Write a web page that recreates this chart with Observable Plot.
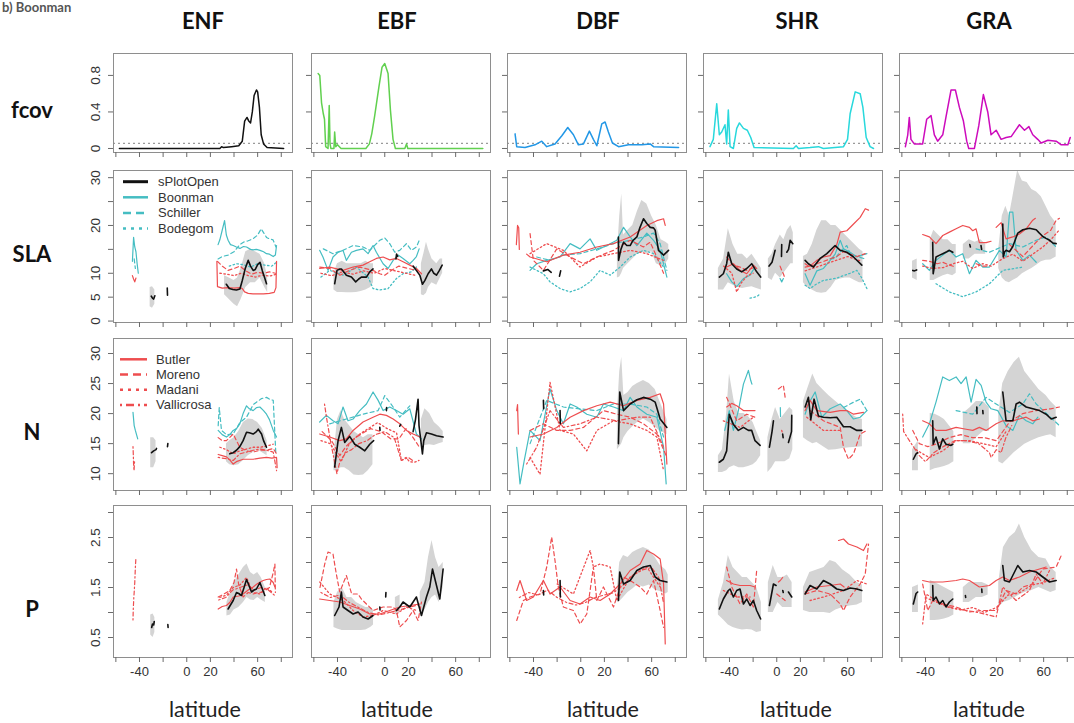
<!DOCTYPE html>
<html><head><meta charset="utf-8">
<script src="https://cdn.jsdelivr.net/npm/d3@7"></script>
<script src="https://cdn.jsdelivr.net/npm/@observablehq/plot@0.6"></script>
<style>
html,body{margin:0;padding:0;background:#fff;width:1074px;height:723px;overflow:hidden;}
#root{position:relative;width:1074px;height:723px;overflow:hidden;background:#fff;}
.panel{position:absolute;}
.panel svg{max-width:none !important;}
#overlay{position:absolute;left:0;top:0;pointer-events:none;}
</style></head><body><div id="root"></div><script>
// ---------- categories / ticks ----------
var pfts = ["ENF","EBF","DBF","SHR","GRA"];
var traits = ["fcov","SLA","N","P"];
var latTicks = [-60,-40,-20,0,20,40,60,80];
var latLabels = [-40,0,20,60];
var yTicks = {fcov:[0,0.4,0.8], SLA:[0,5,10,15,20,25,30], N:[10,15,20,25,30], P:[0.5,1,1.5,2,2.5,3]};
var yLabels = {fcov:[0,0.4,0.8], SLA:[0,5,10,20,30], N:[10,15,20,25,30], P:[0.5,1.5,2.5]};
var fcovThreshold = 0.055;
var legendSLA = ["sPlotOpen","Boonman","Schiller","Bodegom"];
var legendN = ["Butler","Moreno","Madani","Vallicrosa"];

// ---------- fcov ----------
var fcov_ENF = [[-57,0],[28,0],[29.5,0.02],[31,0.01],[38,0.02],[44,0.03],[47,0.08],[49,0.3],[51,0.34],[52.5,0.3],[54,0.28],[55.5,0.4],[57,0.58],[59,0.64],[60,0.62],[61.5,0.45],[63,0.15],[65,0.05],[68,0.01],[82,0]];
var fcov_EBF = [[-56.4,0.82],[-55,0.8],[-53.5,0.5],[-52,0.38],[-51,0.32],[-50,0.02],[-48,0],[-47,0.47],[-46.3,0.05],[-45.6,0],[-43,0],[-42.4,0.18],[-41.5,0.02],[-40,0.04],[-37,0],[-16,0],[-13,0.05],[-11,0.16],[-8.5,0.36],[-5,0.67],[-2.3,0.89],[0,0.93],[2.8,0.82],[4.8,0.42],[7,0.1],[9,0],[17,0],[18.4,0.05],[19.5,0],[83,0]];
var fcov_DBF = [[-55.6,0.16],[-54.2,0.02],[-47.2,0.01],[-38.7,0.04],[-33,0.08],[-28.8,0.02],[-21.8,0.05],[-16,0.14],[-11,0.23],[-6.2,0.15],[-2,0.04],[2.3,0.05],[7.3,0.19],[10.7,0.1],[13.6,0.03],[17.8,0.27],[20.6,0.29],[23.4,0.18],[26.8,0.06],[32,0.02],[40.4,0.04],[51.7,0.04],[58.8,0.05],[61.6,0.02],[82.8,0.01]];
var fcov_SHR = [[-56.5,0.02],[-53.7,0.1],[-50.8,0.49],[-48.6,0.15],[-46.6,0.18],[-43.8,0.26],[-42.4,0.05],[-41,0.42],[-39.5,0.02],[-36.7,0],[-33.9,0.22],[-31.6,0.28],[-28.2,0.22],[-24.9,0.2],[-22,0.12],[-19.2,0.01],[14.1,0],[16.4,0.03],[18.4,0],[28.2,0.01],[35.3,0.02],[39.5,0],[56.5,0.02],[59.9,0.1],[62.1,0.38],[66.4,0.62],[70.6,0.6],[72.9,0.45],[75.7,0.12],[79,0.02],[81.9,0]];
var fcov_GRA = [[-57,0.02],[-55,0.15],[-53.7,0.34],[-52.3,0.1],[-49.5,0.05],[-42.4,0.05],[-39,0.32],[-35.3,0.36],[-32.5,0.15],[-29.7,0.08],[-25.4,0.15],[-22.6,0.35],[-18.4,0.64],[-14.7,0.64],[-11.3,0.45],[-7.9,0.3],[-5.1,0.08],[-3.4,0],[1.4,0],[5.1,0.25],[9,0.59],[12.7,0.4],[15.5,0.15],[19.8,0.2],[24,0.1],[28.2,0.12],[32.5,0.13],[39.5,0.26],[43.8,0.2],[47.5,0.24],[50.8,0.15],[55,0.1],[57.9,0.06],[63.6,0.09],[70.6,0.08],[74.9,0.04],[80.5,0.04],[82.5,0.12]];

// ---------- SLA ----------
var SLA_ENF_band = [[-31,3,7],[-29,2.7,7.2],[-27,3.5,6.5],null,[32,5.5,9.5],[36,4.5,9],[40,3.5,8.5],[43,3,9],[46,4.5,11],[50,7,14.5],[54,8,15],[58,8,14.5],[62,9,14],[66,7,12],[68.5,6,9]];
var SLA_ENF_sPlotOpen = [[-30,5.2],[-29,4.8],[-28,4.6],[-27,5.3],null,[-16.5,6.9],[-16.3,5.4],null,[33.5,7.7],[36,6.8],[39,6.6],[42,6.5],[45,6.7],[47,8.5],[49.5,11],[52,12.7],[54,11.5],[56.2,10.6],[58,10.8],[60,11.8],[62,12.3],[64,10.5],[66,9],[67.5,7.8]];
var SLA_ENF_Boonman = [[-46,12.5],[-45,17.5],[-44,15.5],[-43,14.5],[-42,12],[-41,10],null,[26.5,16],[28,17],[30,19],[32,21],[33.5,18],[35,16.9],[37,16],[39.3,15.8],[42,15.5],[45,15.2],[48,15.6],[50.6,15.5],[54,15],[56.2,14.9],[59,15],[62,14.8],[65,14.5],[67.5,14.1],[70,14],[73.2,13.5],[75,13.8],[76,15.8]];
var SLA_ENF_Schiller = [[-44.5,13],[-43.5,11],null,[26.5,13],[30,13.5],[35,13.8],[40,14.5],[44.9,16],[48,16.5],[52,16.8],[56,17.2],[60,18],[63,19.3],[65,18.5],[67.5,17.5],[70,17.2],[73,17],[75.5,15.5]];
var SLA_ENF_Bodegom = [[36,11.5],[42,12],[48,11.8],[54,11.3],[60,12],[66,11.7],[72,11.5],[76,12.3]];
var SLA_ENF_Butler = [[-46,9.5],[-45,8.8],[-44,8.2],[-43,9],null,[25.5,12.5],[26,7.2],[30,6.9],[35,7],[40,6.9],[44.9,7],[47,6.8],[49,6.1],[52,5.8],[56,5.7],[60,5.7],[65,5.7],[70,5.8],[74,6],[75.5,7],[76,12.5]];
var SLA_ENF_Moreno = [[26,12.5],[30,11.5],[35,10.6],[40,11],[45,11.5],[50,10.5],[55,9.8],[60,10.2],[65,10],[70,10.3],[75,10]];
var SLA_ENF_Madani = [[28,10],[34,9.8],[40,9.5],[46,10],[52,9.5],[58,9.2],[64,9.6],[70,9.4],[76,9.8]];

var SLA_EBF_band = [[-43,6.5,10],[-40,6,12],[-36,6,12.5],[-32,5.9,12],[-28,5.9,12],[-24,6,12],[-20,6.2,12],[-16,6.5,12.5],[-12,7,12],[-9.5,8,12],null,[31,5.5,12],[33,5.3,14],[35.3,5.8,16.5],[37,7,15],[40,8,13],[44,7.5,12],[47,9,13],[49,10,13]];
var SLA_EBF_sPlotOpen = [[-42.4,7.8],[-40.4,10.6],[-38,10.9],[-36.7,10.9],[-32.5,9.6],[-28.2,9.2],[-24.6,8.2],[-22,8.8],[-19.8,9.2],[-15.5,9.2],[-12.7,10.3],[-9.9,10.9],null,[9.5,13],[10,14],[11,13.5],null,[24,11.5],[27,10.5],[29.7,9.6],[31.9,7.7],[34,8.5],[36.7,9.9],[39.5,10.9],[41.5,10],[43.8,9.6],[46,10.5],[48.6,11.7]];
var SLA_EBF_Boonman = [[-55.1,14.8],[-52.3,13.4],[-48,10.6],[-43.8,13.4],[-39.5,14.4],[-35.3,14.8],[-32.5,12.7],[-28.2,14.4],[-24,14.8],[-18.4,15.1],[-14.1,14.1],[-9.9,15.8],[-7.1,14.4],[-1.4,12],[2.8,11],[7.1,12.7],[11.3,13.8],[15.5,13.1],[21.2,12],[24,12.7],[26.8,13.5],[29.1,15.1]];
var SLA_EBF_Schiller = [[-52,15.1],[-43.8,14.1],[-35.3,14.8],[-26.8,15.8],[-18.4,15.5],[-12.7,14.8],[-4.2,16.9],[0,17.4],[4.2,16.2],[8.5,14.4],[12.7,14.8],[18.4,16.2],[22.6,14.8],[26.8,15.5],[29.7,17.2]];
var SLA_EBF_Bodegom = [[-54,9.2],[-46.6,10.6],[-35.3,9.6],[-24,11.3],[-14.1,9.2],[-9.9,6.8],[-4.2,6.5],[2.8,6.8],[9.9,8.9],[15.5,9.9],[22.6,10.3],[26.8,11.3]];
var SLA_EBF_Butler = [[-55.1,11],[-46.6,11.3],[-35.3,10.6],[-26.8,11.3],[-18.4,11.7],[-12.7,12.4],[-7.1,13.1],[-1.4,13.4],[4.2,12.8],[9.9,13.1],[15.5,12.4],[21.2,11.7],[26.8,11],[31.1,9.9]];
var SLA_EBF_Moreno = [[-55,11.3],[-46.6,11],[-38,9.6],[-30,10.6],[-21,11.3],[-10,10.6],[-4.2,9.9],[0,9.6],[5,10.5],[12,11.5],[20,11],[28,10.5]];
var SLA_EBF_Madani = [[-54,10],[-45,9.5],[-36,10.3],[-27,9.8],[-18,10.5],[-9,10],[0,11],[9,10.5],[18,10],[27,9.5]];

var SLA_DBF_band = [[31,9,14],[33,9.2,22],[34.7,10,26.6],[36.2,11,18],[40,12,19],[44,13,20],[48,14,23],[51.7,14.5,25.2],[55.9,14.1,24.5],[60,14.5,22],[64,12,20],[68,11.5,17],[72,12,16.5],[74.5,13,16]];
var SLA_DBF_sPlotOpen = [[-31.6,10.5],[-28,10.8],[-25,10.2],null,[-18,9.4],[-17,10.5],null,[31.9,17.6],[32,12.7],[34,15],[36.2,16.5],[39,15.8],[41.8,15.8],[44,16.8],[47.5,17.6],[50,19.5],[53.1,21.4],[55.9,20.4],[58.8,19.6],[61.6,19.5],[63,19],[65.8,14.8],[70.1,13.8],[74.3,14.8]];
var SLA_DBF_Boonman = [[-42.9,10.6],[-37.3,12],[-28.8,12.7],[-17.5,13.4],[-9,16.2],[-0.6,15.1],[7.9,17.2],[13.6,14.8],[22,15.8],[30.5,16.9],[36.2,19.6],[41.8,17.6],[47.5,15.8],[55.9,18.4],[61.6,16.9],[67.2,14.8],[72.9,9.2]];
var SLA_DBF_Schiller = [[-37.3,13.4],[-26,12.7],[-14.7,13.8],[-0.6,14.1],[13.6,15.1],[27.7,16.2],[41.8,16.9],[53.1,17.6],[61.6,18.4],[67.2,16.2],[72.9,10.6]];
var SLA_DBF_Bodegom = [[-42.9,11.3],[-31.6,9.9],[-26,8.2],[-17.5,6.8],[-9,6.1],[-0.6,6.8],[7.9,8.2],[16.4,10.6],[24.9,9.6],[33.3,11.3],[41.8,13.4],[53.1,14.8],[61.6,14.1],[70.1,11.3]];
var SLA_DBF_Butler = [[-54.5,16],[-53.5,20],[-52.5,19.5],[-52,15],null,[-45.8,14],[-42.9,13.4],[-28.8,12.4],[-14.7,13.8],[-0.6,14.4],[13.6,15.5],[27.7,16.2],[41.8,17.6],[55.9,20],[64.4,21],[70.1,21.4],[71.5,20]];
var SLA_DBF_Moreno = [[-42.9,18.3],[-40.1,12.7],[-31.6,10.6],[-20.3,15.1],[-9,13.4],[2.3,12],[13.6,13.4],[27.7,14.8],[41.8,16.9],[53.1,15.5],[58.8,16.5],[64.4,13.4],[70.1,10]];
var SLA_DBF_Madani = [[-42.9,14.1],[-28.8,16.2],[-14.7,14.8],[-0.6,11.3],[13.6,13.4],[27.7,14.1],[41.8,14.8],[55.9,14.1],[70.1,12.7]];

var SLA_SHR_band = [[-49.4,6.5,11],[-45,6.5,13],[-41,8,19.3],[-37,7.5,16],[-33,7,14],[-29,6.8,14],[-25,7,13],[-21,7.2,14],[-17,6.8,12.5],[-13,6.5,11],null,[-7.1,9,13],[-4,8.5,14],[-1,10,16],[3,9,18],[6,10,17],[9,11,19],[12,12,20],[14,12,18.5],null,[22.6,8,13.5],[26,7,14],[30,6.5,16],[34,6,19],[38,5.8,21],[42,6,21],[46,7,20],[50,8.5,20],[54,8.8,19],[58,9,18],[62,9,17],[66,8.5,16],[70,8,15],[73,8,14.5]];
var SLA_SHR_sPlotOpen = [[-48.6,9.2],[-45.2,9.9],[-42.4,12],[-41,14.4],[-38.1,12],[-33.9,10.9],[-29.7,10.3],[-25.4,11],[-21.2,12],[-17,10.3],[-13.6,9.2],null,[-6.5,11.5],[-4,12.3],[-1.4,14.8],null,[4,13.5],[4.2,16],null,[8.5,14.4],[10,15],[11.3,16.9],[13.6,16.2],null,[24,12.7],[26.8,12],[31.1,11.3],[36.7,13.1],[42.4,14.1],[49.4,15.8],[53.7,14.8],[59.3,14.4],[65,13.4],[72,11.7]];
var SLA_SHR_Boonman = [[-42.4,9.9],[-38.1,8.2],[-33.9,7.2],[-28.2,8.9],[-22.6,9.6],[-18.4,11.3],null,[2.8,8.9],[4.2,8.2],[5.6,8.9],null,[24,9.9],[28.2,7.5],[33.9,10.5],[39.5,11],[45.2,12.7],[49.4,14],[53.7,16.9],[56.5,15.1],[62.1,14.4],[67.8,13.4],[72,13.8],[76.3,14.1]];
var SLA_SHR_Schiller = [[45,13],[49.4,13.1],[53.7,14.5],[59.3,15.8],[62.1,14.1],[67.8,13.5],[74.9,13]];
var SLA_SHR_Bodegom = [[-22.6,4.8],[-17,5.1],[-15,5.5],null,[24,7.5],[28.2,6.8],[33.9,7.8],[39.5,8.5],[50.8,9],[62,10],[67.8,10.6],[72,9],[76.3,6.8]];
var SLA_SHR_Butler = [[-42.4,11.3],[-36.7,12],[-31.1,10.6],[-25.4,9.9],[-19.8,11.7],[-17,11],null,[24,11.3],[28,11.5],[33.9,12.7],[39.5,13.4],[45.2,13.7],[50.8,16],[53.7,18.6],[59.3,18.9],[65,20.3],[70.6,21.7],[74.9,23.5],[77.7,23.2]];
var SLA_SHR_Moreno = [[-42.4,13.4],[-36.7,11.7],[-31.1,11.3],[-25.4,10.6],[-18.4,11.3],null,[2.8,11.5],[4.2,10.6],[5.6,9.9],[7.1,8.8],null,[24,12],[28.2,11.3],[33.9,12],[40,12.5],[45,13],[50.8,13.5],[56.5,14.5],[62,14],[68,13.5],[74.9,14.1]];
var SLA_SHR_Madani = [[-45,11.5],[-38,10],[-33.9,6.1],[-30,8],[-25,9.5],[-20,10],null,[24,10.5],[30,11],[36,11.5],[42,12],[48,12.5],[54,13],[60,13.5],[66,13],[72,12.5]];

var SLA_GRA_band = [[-51,9,12.5],[-47,8.5,13],null,[-36,8.5,17],[-33,8.5,19],[-29,9,18],[-25,9.5,17],[-21,9.8,17],[-17,9.5,16],[-14,10,16],null,[-8,13,16],[-3,13,17],[2,14,16.5],[7,14,17],[11,14,16],null,[22,11,15],[25,9,22],[28,8.3,24],[31,8,22],[34,8.5,26],[38,9,31.5],[42,9.9,29.3],[46,10.5,29],[50,11,27.5],[54,11.7,27],[58,12.4,26],[62,12.7,24],[66,12.8,22],[70.6,13.4,20.5]];
var SLA_GRA_sPlotOpen = [[-50.8,10.6],[-49.4,10.5],[-47.5,10.7],null,[-33.9,16.5],[-33.5,9.9],[-31.1,13.4],[-28,13.8],[-25.4,14.1],[-22,14.5],[-19.8,14.8],[-16.9,14.4],null,[-2.5,16],[-2,15.5],null,[7,15.8],[7.5,15],null,[25.4,20.3],[25.8,13.4],[27,14.5],[28.2,14.8],[31.1,14.5],[33.9,15.6],[36.7,17.5],[38.1,18.4],[42.4,19.1],[48,19.4],[53.7,19.1],[56,18.5],[59.3,17.7],[62,17.3],[65,16.9],[68,16.3],[70.6,16.2]];
var SLA_GRA_Boonman = [[-42.4,12],[-36.7,10.6],[-31.1,12.7],[-25.4,13.8],[-19.8,14.8],[-14.1,13.4],[-8.5,14.1],[-2.8,9.9],[2.8,12.7],[8.5,11.3],[14.1,11.3],[22.6,14.8],[28.2,13.4],[31.1,22.8],[33.9,22.8],[36.7,14.8],[42.4,12.7],[48,13.8],[53.7,12.3]];
var SLA_GRA_Schiller = [[2.8,15.1],[14.1,14.4],[31.1,16.2],[42.4,15.5],[53.7,16.9],[62.1,17.6],[70.6,15.5]];
var SLA_GRA_Bodegom = [[-31.1,7.8],[-19.8,6.1],[-8.5,5.1],[2.8,6.1],[14.1,7.8],[25.4,10.6],[42.4,11.3]];
var SLA_GRA_Butler = [[-42.4,18.1],[-36.7,17.6],[-31.1,16.2],[-25.4,17.9],[-19.8,18.6],[-14.1,19.3],[-8.5,20],[-2.8,19.6],[0,18.9],[2.8,19.3],[5.6,16.4],[11.3,16.4],[15.5,16.7],null,[19.8,19.6],[24,20.6],[28.2,17.2],[33.9,17.6],[39.5,18.2],[45.2,19.3],[50.8,21.1],[53,21.5]];
var SLA_GRA_Moreno = [[-42.4,12.7],[-36.7,12.5],[-30,12],[-25.4,12.3],[-19.8,11.7],[-14.1,11.3],null,[2.8,12],[8.5,11.5],[14.1,11.5],null,[31.1,16],[36.7,14.8],[42.4,13.5],[48,15],[53.7,16.5],[60,18],[66,19],[70.6,21.1],[73.4,21.5]];
var SLA_GRA_Madani = [[-42.4,11.5],[-33.9,11],[-25,11.2],[-16.9,12],[-8.5,12.5],[0,11],[8.5,12],[15.5,11.5],[25,13],[33.9,14],[42.4,12.5],[50.8,14],[59.3,15.5],[66,17],[73,19]];

// ---------- N ----------
var N_ENF_band = [[-30.5,11,16],[-28,11,16],[-26,12,15.5],null,[33.6,12,15],[36.4,11.5,15.5],[40,11.3,16],[44,11.5,17],[48,12.2,18.5],[52,13,19.1],[56,13.5,19],[60,14,18.5],[64,13.5,17.5],[68,13,15.5]];
var N_ENF_sPlotOpen = [[-29.8,13.5],[-28,13.8],[-26,14],[-25.6,14.2],null,[-16.3,14.5],[-16,15],null,[36.4,13.3],[39.3,13.5],[42.1,13.9],[44.9,14.5],[47.7,15.5],[50.6,16.9],[53,16.8],[56.2,16.6],[59,17],[60.5,17.4],[63.3,16.6],[65,15.5],[67.5,14.4]];
var N_ENF_Boonman = [[-45.5,20.2],[-44.5,18],[-43.5,17.2],[-42.5,16.5],[-41.5,15.8],null,[26.6,17.2],[30,16.5],[33.6,16.1],[36.4,16.5],[39.3,17.2],[42.1,17.5],[44.9,18.3],[47.7,20],[50.6,21.3],[53,20.8],[56.2,20.5],[59,21],[61.9,21.1],[65,20.5],[67.5,19.9],[70,19],[73.2,17.2],[76,16.1]];
var N_ENF_Schiller = [[26.6,18],[27.5,21],[29.4,17.2],[33.6,16.5],[39.3,16.6],[44.9,18.5],[50.6,19.4],[56.2,21.5],[59,21.9],[63.3,22.5],[67.5,22.7],[70,22.4],[73.2,22.2],[75.4,13.3]];
var N_ENF_Butler = [[26.6,13.2],[30,13],[33.6,12.8],[36.4,12.3],[39.3,11.6],[42,12],[47.7,12.4],[53,12.4],[56.2,12.4],[62,12.6],[67.5,12.7],[72,12.6],[76,12.7],[76.5,11]];
var N_ENF_Moreno = [[26.6,16],[30,15.5],[33.6,15.5],[39.3,16.6],[44.9,14.4],[50.6,13.8],[56.2,13.6],[62,13.9],[67.5,13.9],[73.2,14.2],[76,13.3]];
var N_ENF_Madani = [[28,14.4],[33.6,14],[39.3,13.3],[44.9,13.8],[50.6,14.1],[56.2,14.4],[61.9,14.4],[67.5,14.6],[73.2,14.9]];
var N_ENF_Vallicrosa = [[-45.5,14.5],[-45.2,13],[-45,11.5],[-44.6,10.5],[-44.2,12],null,[26.6,12.7],[33.6,12.5],[39.3,12.2],[44.9,13.3],[50.6,13.6],[56.2,13.9],[61.9,14.1],[67.5,13.9],[73.2,13.6],[76,10.5]];

var N_EBF_band = [[-43,10.5,13],[-40,10.5,19],[-37,11,20.5],[-34,11,19],[-30,10.5,18],[-26,9.8,17],[-22,9.7,16.5],[-18,9.8,16],[-14,10.5,16.5],[-10,11.5,16.5],null,[31,14,19],[34,14.7,20.8],[38,14.8,20],[42,14.7,18.5],[46,15,17.8],[49.5,15.2,17]];
var N_EBF_sPlotOpen = [[-42.4,11.1],[-39.5,15.5],[-36.7,17.7],[-33.9,15.2],[-29.7,16.2],[-25.4,14.9],[-21.2,14.4],[-16.9,13.8],[-12.7,14.9],[-9.4,15.5],null,[-4.2,17.7],[-4,17.2],null,[1.4,20.5],[1.6,21],null,[12.7,17.9],[13.5,18.2],null,[24,17],[26,19],[28.2,22.4],[29,18],[31.9,13.3],[33,15.5],[35.3,16.8],[39.5,16.6],[43.8,16.3],[49.4,16.1]];
var N_EBF_Boonman = [[-55.1,18.6],[-49.4,19.7],[-43.8,18.8],[-39.5,18.3],[-35.3,21.1],[-31.1,18.8],[-26.8,19.1],[-21.2,20.5],[-15.5,21.6],[-9.9,23.6],[-5.6,22.2],[-1.4,20.5],[4.2,21.1],[9.9,20.5],[15.5,19.9],[21.2,20.8],[26.8,16.6],[31.1,15.8]];
var N_EBF_Schiller = [[-46.6,18.3],[-32.5,19.1],[-18.4,19.9],[-5.6,20.5],[0,23],[7.1,21.1],[12.7,19.4],[21.2,21.3]];
var N_EBF_Butler = [[-55.1,16.6],[-46.6,16.1],[-38.1,15.5],[-32.5,15.8],[-26.8,17.2],[-18.4,18.6],[-9.9,19.4],[-4.2,19.9],[1.4,19.7],[7.1,19.1],[12.7,18.3],[18.4,17.2],[24,16.6],[29.7,16.1]];
var N_EBF_Moreno = [[-53,17],[-45,15.5],[-38,13],[-33,14.5],[-25,16],[-12,17.5],[-3,17],[5,15.8],[12,15.8],[18,17.5],[24,16],[29,14.5]];
var N_EBF_Madani = [[-54,15.5],[-46,15],[-37,12],[-30,15],[-22,16.5],[-14,17.5],[-6,18.5],[2,17.5],[10,16.8],[14.1,12.2],[18,12.7],[21,12],[25,11.9],[29,12.2]];
var N_EBF_Vallicrosa = [[-51,21.6],[-49,19],[-46,15.5],[-40.5,10],[-38,12],[-33,13.5],[-28,14],[-22,15],[-15,15.5],[-8,16.5],[0,17],[8,16],[14,12.2],[20,12.7],[25,12]];

var N_DBF_band = [[31,14,20],[33,14.5,27],[34.7,15,29.4],[36.5,16,23],[40,17,23.5],[44,17.8,24.5],[48,18.5,25],[53.1,19.1,25.5],[58,18.5,25],[63,17.8,24],[67,17,22],[70,16.8,20.5],[73,16.5,19]];
var N_DBF_sPlotOpen = [[-31.6,22.2],[-31.4,20.8],null,[-17.5,20.5],[-17.3,18.3],null,[31.9,15],[33,23.6],[36.2,20.5],[41.8,21.6],[47.5,22.3],[53.1,22.7],[58.8,22.4],[63,21.9],[67.2,19.1],[72.9,17.7]];
var N_DBF_Boonman = [[-54.2,14.4],[-51.4,8.3],[-48,12],[-42.9,17.2],[-34.5,15.5],[-26,24.1],[-20.3,20.5],[-14.7,18.3],[-9,21.6],[-3.4,21.1],[5.1,19.9],[13.6,19.4],[19.2,21.6],[27.7,21.1],[36.2,20.5],[41.8,22.7],[47.5,21.1],[55.9,19.9],[64.4,19.4],[70.1,14.4],[72.3,8.3]];
var N_DBF_Schiller = [[-42.9,15],[-28.8,22.2],[-14.7,21.1],[-0.6,20.8],[13.6,20.5],[27.7,21.6],[41.8,21.6],[55.9,21.1],[64.4,19.9],[70.1,16.1]];
var N_DBF_Butler = [[-54.2,20.5],[-53.5,21.5],[-52.8,16.6],null,[-42.9,16.1],[-31.6,16.6],[-20.3,17.7],[-9,19.4],[2.3,20.5],[13.6,21.3],[24.9,21.9],[36.2,21.3],[47.5,22.2],[58.8,22.7],[67.2,23.3],[70.1,21.6],[72.9,11.6]];
var N_DBF_Moreno = [[-42.9,17.2],[-31.6,18.3],[-20.3,17.2],[-9,17.2],[2.3,17.7],[19.2,20.5],[30.5,19.9],[41.8,19.4],[53.1,18.3],[64.4,16.6],[72.9,12.7]];
var N_DBF_Madani = [[-42.9,12.7],[-34.5,9.9],[-26,25.2],[-17.5,17.2],[-6.2,16.6],[5.1,13.8],[13.6,17.2],[27.7,18.8],[41.8,18.3],[55.9,17.2],[64.4,16.1],[70.1,10.5]];
var N_DBF_Vallicrosa = [[-45.8,11.6],[-37.3,14.4],[-26,20.5],[-14.7,17.7],[-0.6,18.3],[13.6,19.4],[30.5,18.8],[47.5,19.4],[58.8,19.4],[70.1,14.4]];

var N_SHR_band = [[-49.4,10.2,13],[-46,10.2,14],[-42.4,10.5,20],[-40,11,26.6],[-36,11.3,22],[-32,11,20],[-28,11,20],[-24,11.2,19.5],[-20,11.5,18.5],[-17,12,17],[-13.6,13,15.5],null,[-7.5,10.2,16],[-4,11,19],[-1,12,21],[3,12,19],[7,12,20],[11,12.5,21],[13.6,14,20.5],null,[22.6,16,22],[26,15.5,24],[30.5,15,26.6],[34,15.2,25],[39.5,14.5,23.9],[44,13.9,23],[50,14,22],[56,14.2,21],[62,14.3,20],[68,14.4,19.3],[72.5,14.5,19]];
var N_SHR_sPlotOpen = [[-48.6,11.9],[-45.2,12.4],[-42.4,13.8],[-40.2,19.9],[-36.7,18.2],[-32.5,17.2],[-28.2,17.7],[-24,17.2],[-21.2,17.2],[-18.4,15.5],[-14.1,14.7],null,[-6.2,14.4],[-4,17],[-2.8,18.8],null,[5,16.6],[5.4,16],null,[9.9,15.2],[12.5,17],[12.7,19.7],null,[24,21.1],[26.8,22.7],[28.8,19],[31.6,22.4],[35.3,19.6],[39.5,19.4],[45.2,19.3],[50.8,19.4],[56.5,17.8],[62.1,17.8],[67.8,17.2],[72,17.2]];
var N_SHR_Boonman = [[-44,17.2],[-40.2,20.5],[-36.7,17.2],[-32.5,20.5],[-28.2,24.9],[-24,27.2],[-22,25.5],[-21,24.9],null,[3,21],[3.2,19.5],null,[24,19.9],[26.8,21.6],[32.5,23.6],[38.1,19.4],[45.2,20.8],[53.7,21.6],[59.3,20.5],[65,19.1],[70.6,19.4],[76.3,20.5]];
var N_SHR_Schiller = [[56.5,21],[65,21.9],[70.6,22.4],[76.3,20.5]];
var N_SHR_Butler = [[-42.4,21.1],[-38.1,21.7],[-33.9,21.3],[-28.2,20.5],[-24,20.5],[-18.4,20.5],null,[24,20.5],[28.2,22.2],[33.9,20.5],[45.2,20.2],[53.7,20.5],[59.3,20.5],[65,19.9],[73.4,20.2]];
var N_SHR_Moreno = [[-42.4,22.7],[-33.9,18.8],[-25.4,19.9],[-18.4,19.4],null,[1.4,24.1],[5.6,24.7],[7.1,22.7],null,[28.2,20.5],[39.5,18.8],[53.7,17.7],[56.5,14.4],[60.7,12.4],[65,13.3],[70.6,16.6],[76.3,17.2]];
var N_SHR_Madani = [[-45.2,18.8],[-31.1,17.7],[-19.8,19.4],null,[4.2,17.2],[5,16.6],null,[25.4,19.4],[39.5,17.2],[55,17.2]];

var N_GRA_band = [[-51,10.5,14],[-46,10.5,15.5],null,[-36,10.5,20],[-32,10.8,19.9],[-28,11,19.5],[-24,11.2,19],[-20,11.5,18],[-16,12,17],null,[-8,15,20],[-2,15,21],[3,16,22],[9,17,22],[14,17,21],null,[22,12,20],[25.4,11.6,25],[30,12.5,27],[35,13.5,28.5],[39.5,14.2,29.4],[44,14.9,27],[50,15.5,25.5],[56,16,24],[62,16.3,23],[66,16.5,22],[70.6,16,21.1]];
var N_GRA_sPlotOpen = [[-50.3,12.4],[-48,13.3],[-46.6,13.5],null,[-33.9,18.8],[-33.5,14.9],[-31.1,16.1],[-28.2,14.1],[-25.4,15.8],[-22.6,14.9],[-18.4,14.7],[-16.9,14.9],null,[3.4,21.1],[3.6,20],null,[8.5,20.5],[8.7,20],null,[25.4,23.6],[28.2,18.8],[31.1,18.8],[33.9,18.8],[36.7,21.6],[39.5,21.9],[45.2,21.1],[50.8,20.8],[56.5,20.5],[62.1,19.9],[66.4,19.1],[70.6,19.4]];
var N_GRA_Boonman = [[-42.4,16.1],[-36.7,18.3],[-31,22],[-25.4,26.1],[-19.8,25.5],[-14.1,26.1],[-9.9,25],[-5.6,26.1],[-1.4,21.9],[2.8,25.7],[7.1,24.7],[11.3,21.9],[15.5,20.8],[21.2,20.5],[28.2,18],[33.9,17.2],[39.5,19.7],[45.2,18.8],[50.8,18.3],[55.1,19.4]];
var N_GRA_Schiller = [[-14.1,20.5],[0,19.9],[11.3,22.7],[19.8,21.6],[31.1,20.2],[42.4,21.6],[48,23.3],[53.7,21.6],[73.4,18]];
var N_GRA_Butler = [[-42.4,18.8],[-36.7,18.3],[-31.1,17.2],[-22.6,17.2],[-14.1,17.7],[-5.6,17.4],[0,17.2],[5.6,17.7],[11.3,17.2],[19.8,18.3],[25.4,18.8],[33.9,18.8],[39.5,19.1],[45.2,19.4],[50.8,18.8],[56.5,19.1]];
var N_GRA_Moreno = [[-50.8,17.2],[-45.2,15],[-38,14.5],[-30,15],[-20,16],[-10,16.5],[0,16],[10,16],[20,15.5],[31.1,18.6],[42.4,20],[53.7,20.5],[66,20.8],[73.4,21.1]];
var N_GRA_Madani = [[-48,14],[-42.4,13.3],[-36.7,12.7],[-25.4,13.8],[-14.1,15.5],[-2.8,15.5],[8.5,15],[19.8,14.5],[28.2,17]];
var N_GRA_Vallicrosa = [[-59.3,19.9],[-58.5,17],[-52,15],[-45.2,13],[-40,12],[-33,13.5],[-25,14.5],[-15,15.5],[-5,15.5],[5,15],[14.1,13.5],[15.5,12.7],[20,14],[24,13.5],[28,16],[33,18]];

// ---------- P ----------
var P_ENF_band = [[-30.5,0.55,0.95],[-28.5,0.5,0.97],[-27,0.6,0.9],null,[34,0.93,1.2],[37,0.95,1.4],[40,1.05,1.6],[44,1.1,1.75],[48,1.2,1.9],[51,1.3,1.97],[54,1.25,1.8],[57,1.24,1.75],[60,1.3,1.8],[63,1.25,1.7],[66.5,1.2,1.5]];
var P_ENF_sPlotOpen = [[-29.7,0.7],[-29,0.77],[-28,0.75],[-27.5,0.82],null,[-16,0.76],[-15.8,0.7],null,[35,1.07],[37,1.15],[39.3,1.24],[42.1,1.4],[44,1.38],[46.3,1.34],[48.5,1.5],[50.6,1.66],[52.5,1.55],[54.8,1.41],[57,1.45],[59,1.47],[61.9,1.6],[63.5,1.5],[66.1,1.34]];
var P_ENF_Butler = [[26.6,1.07],[30,1.12],[33.6,1.14],[36.4,1.2],[39.3,1.31],[44,1.33],[47.7,1.37],[52,1.45],[56.2,1.51],[60,1.58],[64.7,1.64],[67.5,1.66],[70.3,1.67],[73.2,1.6],[74.6,1.51]];
var P_ENF_Moreno = [[26.6,1.31],[30,1.35],[33.6,1.4],[36.4,1.44],[40,1.6],[42.1,1.87],[44,1.55],[47.7,1.31],[52,1.4],[56.2,1.37],[60,1.4],[64.7,1.41],[70,1.5],[73.2,1.8],[74.6,1.97],[75,1.4]];
var P_ENF_Madani = [[28,1.3],[33.6,1.35],[39.3,1.5],[45,1.55],[50.6,1.7],[56,1.4],[61.9,1.37],[67,1.5],[73,1.4]];
var P_ENF_Vallicrosa = [[-45.5,0.85],[-45.3,1.05],[-44.8,1.3],[-44.5,1.4],[-44,1.6],[-43.5,1.9],[-43,2.1],null,[27,1.25],[33,1.3],[39,1.45],[45,1.5],[51,1.55],[57,1.45],[63,1.5],[69,1.45],[74,1.35]];

var P_EBF_band = [[-43,0.7,1.2],[-40,0.67,1.4],[-36,0.64,1.5],[-32,0.64,1.3],[-28,0.64,1.3],[-24,0.64,1.2],[-20,0.64,1.15],[-16,0.65,1.1],[-12,0.7,1.1],[-9.5,0.75,1.05],null,[9,0.95,1.3],[13,1,1.35],null,[30,0.9,1.4],[34,1.05,1.6],[37,1.2,2.1],[40,1.3,2.44],[43,1.35,2.1],[46,1.2,1.9],[49.5,1.5,2]];
var P_EBF_sPlotOpen = [[-42.4,0.94],[-38.7,1.11],[-36.7,1.41],[-35.3,1.11],[-31.1,1.04],[-26.8,0.97],[-22.6,1.01],[-18.4,0.91],[-14.1,0.87],[-9.9,0.94],null,[-4.2,1.11],[-4,1.05],null,[0.8,1.31],[1,1.4],null,[9.9,1.04],[12.7,1.11],[15.5,1.21],[21.2,1.11],[26.8,1.31],[31.1,0.94],[35.3,1.31],[38.1,1.51],[40.4,1.87],[43.8,1.54],[46.6,1.27],[49.4,1.87]];
var P_EBF_Butler = [[-55.1,1.27],[-46.6,1.24],[-38,1.21],[-29.7,1.14],[-21.2,1.07],[-12.7,0.97],[-4.2,0.97],[4.2,1.04],[12.7,1.11],[21.2,1.14],[29.7,1.17]];
var P_EBF_Moreno = [[-54.8,1.5],[-50.8,1.97],[-48,2.21],[-43.8,2.17],[-41,1.77],[-38.1,1.41],[-32.5,1.74],[-28,1.37],[-22.6,1.37],[-19.8,1.27],[-15.5,1.17],[-9.9,1.04],[-1.4,1.11],[7.1,1.11],[9.9,1.04],[12.7,0.71],[18.4,0.84],[24,1.04],[28.2,0.84],[31.1,1.21]];
var P_EBF_Madani = [[-55,1.61],[-46.6,1.37],[-35,1.24],[-26.8,1.04],[-18.4,0.91],[-9.9,0.94],[-1.4,1.04],[9.9,0.97],[18.4,1.11],[26.8,1.04]];
var P_EBF_Vallicrosa = [[-54,1.4],[-46,1.3],[-38,1.35],[-30,1.2],[-22,1.1],[-14,1],[-5,0.95],[4,1],[12,1.05],[20,1.1],[28,1.15]];

var P_DBF_band = [[31,1.2,1.5],[33,1.22,2],[36.2,1.3,2.14],[40,1.4,2.1],[44,1.47,2.2],[48,1.55,2.25],[53,1.51,2.3],[58,1.55,2.25],[63,1.45,2.1],[67,1.42,1.95],[72,1.37,1.85],[74,1.4,1.75]];
var P_DBF_sPlotOpen = [[-31.6,1.44],[-31.4,1.35],null,[-17.5,1.64],[-17.3,1.31],null,[31.9,1.24],[33,1.81],[36.2,1.57],[41.8,1.64],[47.5,1.84],[53.1,1.91],[58.8,1.94],[63,1.71],[67.2,1.64],[72.9,1.61]];
var P_DBF_Butler = [[-54.2,1.44],[-51.4,1.64],[-45.8,1.24],[-40.1,1.31],[-31.6,1.64],[-26,1.37],[-17.5,1.51],[-9,1.24],[-0.6,1.17],[7.9,1.31],[16.4,1.24],[24.9,1.37],[33.3,1.57],[41.8,1.84],[50.3,1.97],[55.9,2.24],[61.6,2.17],[67.2,2.07],[70.1,1.57],[71.5,0.37]];
var P_DBF_Moreno = [[-54.2,0.84],[-48.6,1.24],[-42.9,1.31],[-34.5,1.37],[-28.8,1.91],[-24.6,2.51],[-21.8,2.04],[-19,1.51],[-14.7,1.11],[-6.2,1.04],[-0.6,0.77],[5.1,0.97],[10.7,1.91],[13.6,1.24],[19.2,1.51],[27.7,1.11],[36.2,1.71],[41.8,1.64],[50.3,1.51],[55.9,1.37],[61.6,1.64],[67.2,1.04],[70.1,0.7]];
var P_DBF_Madani = [[-20,1.57],[-6.2,1.37],[7.9,2.24],[10.7,1.91],[16.4,1.97],[24.9,1.91],[30.5,1.24],[41.8,1.71],[55.9,1.91],[67.2,1.51]];
var P_DBF_Vallicrosa = [[-52,1.3],[-44,1.4],[-36,1.35],[-28,1.45],[-20,1.3],[-12,1.2],[-4,1.15],[4,1.2],[12,1.3],[20,1.35],[28,1.4],[36,1.55],[44,1.75],[52,1.85],[60,1.9],[66,1.7],[70,1.2]];

var P_SHR_band = [[-49.4,0.95,1.25],[-45,0.85,1.6],[-41,0.75,2.14],[-37,0.7,1.9],[-33,0.67,1.8],[-29,0.65,1.7],[-25,0.66,1.7],[-21,0.65,1.6],[-17,0.6,1.5],[-13,0.62,1.2],null,[-7.1,1,1.6],[-3,1,1.94],[1,1.2,1.7],[5,1.1,1.7],[9,1.1,1.75],[13,1.1,1.6],null,[22.6,1.04,1.5],[28,1,1.8],[34,1,1.85],[40,1,1.9],[45.2,0.98,2.04],[50,1.05,2],[56,1.1,1.85],[62,1.13,1.75],[68,1.15,1.6],[72.5,1.2,1.55]];
var P_SHR_sPlotOpen = [[-48.6,1.07],[-45.2,1.27],[-41,1.44],[-39.5,1.47],[-36.7,1.31],[-33.9,1.44],[-31.1,1.47],[-28.2,1.17],[-25.4,1.27],[-22.6,1.14],[-19.8,1.24],[-17,1.04],[-13.6,0.87],null,[-6.2,1.14],[-2.8,1.57],[-0.6,1.54],null,[5.1,1.44],[5.5,1.4],null,[9.9,1.41],[12.7,1.31],null,[24,1.37],[28.2,1.54],[33.9,1.47],[39.5,1.64],[45.2,1.57],[50.8,1.47],[56.5,1.44],[62.1,1.49],[67.8,1.47],[72,1.44]];
var P_SHR_Butler = [[-42.4,1.64],[-36.7,1.57],[-31.1,1.54],[-22.6,1.54],[-18.4,1.51],null,[1.4,1.61],[3,1.64],[5,1.7],null,[24,1.41],[33.9,1.51],[45.2,1.54],[53.7,1.57],[57,1.51],null,[52.3,2.44],[56.5,2.47],[60.7,2.37],[67.8,2.31],[73.4,2.24],[76.3,2.37]];
var P_SHR_Moreno = [[-42.4,1.91],[-38.1,1.51],[-31.1,1.17],[-25.4,1.37],[-19.8,1.11],[-17,1.84],null,[0,1.37],[7.1,1.24],null,[24,1.37],[33.9,1.44],[45.2,1.37],[53.7,1.17],[56.5,1.04],[62.1,1.31],[70.6,1.57],[74.9,1.77],[77.7,2.37]];
var P_SHR_Madani = [[-45.2,1.44],[-33.9,1.31],[-22.6,1.31],null,[28.2,1.24],[39.5,1.31],[56.5,1.44],[67.8,1.64],[76.3,1.57]];

var P_GRA_band = [[-51,1,1.5],[-46,1,1.55],null,[-36,0.84,1.64],[-32,0.84,1.6],[-28,0.85,1.55],[-24,0.87,1.5],[-20,0.9,1.45],[-16,0.95,1.4],null,[-8,1.2,1.5],[-3,1.2,1.6],[3,1.3,1.6],[8,1.3,1.6],[13,1.35,1.55],null,[22,1.1,1.6],[26,1.2,2.3],[31.1,1.24,2.5],[36,1.3,2.6],[39.5,1.35,2.77],[44,1.4,2.5],[50,1.44,2.24],[56,1.5,2.1],[62,1.44,2.07],[66,1.4,1.9],[70.6,1.44,1.8]];
var P_GRA_sPlotOpen = [[-50.3,1.17],[-48,1.38],[-46.6,1.41],null,[-33.9,1.54],[-33.5,1.24],[-31.1,1.31],[-28.2,1.17],[-25.4,1.24],[-22.6,1.11],[-19.8,1.21],[-16.9,1.27],null,[-6.2,1.34],[-6,1.3],null,[7.6,1.47],[7.8,1.4],null,[25.4,1.94],[26.8,1.64],[31.1,1.61],[38.1,1.94],[42.4,1.81],[48,1.84],[53.7,1.81],[59.3,1.71],[65,1.61],[70.6,1.64]];
var P_GRA_Butler = [[-42.4,1.64],[-36.7,1.61],[-25.4,1.61],[-14.1,1.64],[-8.5,1.67],[-2.8,1.64],[5.6,1.51],[14.1,1.54],[19.8,1.64],[25.4,1.71],[31.1,1.64],[39.5,1.71],[48,1.81],[56.5,1.87],[62.1,1.91]];
var P_GRA_Moreno = [[-42.4,1.57],[-38.1,1.04],[-33.9,1.24],[-25.4,1.17],[-14.1,1.11],[-2.8,1.01],[8.5,1.04],[19.8,1.04],[28.2,1.44],[36.7,1.37],[42.4,1.51],[50.8,1.57],[59.3,1.87],[70.6,1.91],[74.9,2.14]];
var P_GRA_Madani = [[-40,1.3],[-30,1.2],[-20,1.1],[-10,1.05],[0,1.1],[10,1],[20,1.1],[30,1.35],[40,1.4],[50,1.55],[60,1.6],[70,1.7]];
var P_GRA_Vallicrosa = [[-42.4,0.77],[-39.5,1.37],[-31.1,1.24],[-19.8,1.11],[-8,1.05],[5,1],[19.8,0.91],[25.4,1.51],[36.7,1.24],[48,1.44],[53.7,1.77],[59.3,1.57],[65,1.84]];

// ---------- styles & layout (not data) ----------
var teal = "#45bdc2", red = "#ee4d4f";
var fcovColors = {ENF:"#111111", EBF:"#61D04F", DBF:"#2297E6", SHR:"#28D8DC", GRA:"#CD0BBC"};
var seriesStyle = {
  sPlotOpen:{stroke:"#111", dash:null, w:1.6, lw:3},
  Boonman:{stroke:teal, dash:null, w:1.2, lw:2.5},
  Schiller:{stroke:teal, dash:"4,3", w:1.2, lw:2.5, ld:"8,5"},
  Bodegom:{stroke:teal, dash:"1.5,2.5", w:1.3, lw:2.5, ld:"3,5"},
  Butler:{stroke:red, dash:null, w:1.2, lw:2.5},
  Moreno:{stroke:red, dash:"4,3", w:1.2, lw:2.5, ld:"8,5"},
  Madani:{stroke:red, dash:"1.5,2.5", w:1.3, lw:2.5, ld:"3,5"},
  Vallicrosa:{stroke:red, dash:"1.5,2.5,4,2.5", w:1.2, lw:2.5, ld:"2,4,8,4"}
};
var drawOrder = ["Bodegom","Schiller","Boonman","Madani","Vallicrosa","Moreno","Butler"];
var yDomains = {fcov:[-0.044,1.04], SLA:[-0.3,31.5], N:[7.2,32.5], P:[0.1,3.14]};
var latDomain = [-62, 89.5];
var boxLeft = {ENF:113, EBF:311, DBF:507, SHR:703, GRA:899};
var boxW = 179;
var rowBox = {fcov:[53,152], SLA:[170,322], N:[338,490], P:[505,657]};

var toPts = arr => arr.map(p => p === null ? {lat:NaN, v:NaN} : {lat:p[0], v:p[1]});
var toBand = arr => arr.map(p => p === null ? {lat:NaN, lo:NaN, hi:NaN} : {lat:p[0], lo:p[1], hi:p[2]});

var root = document.getElementById("root");
var tickFont = "'Liberation Sans', Arial, Helvetica, sans-serif";

for (const t of traits) {
  for (const pft of pfts) {
    const ML = pft === "ENF" ? 34 : 14, MR = 2, MT = 2, MB = t === "P" ? 28 : 10;
    const [top, bottom] = rowBox[t];
    const h = bottom - top;
    const W = ML + boxW + MR, H = MT + h + MB;
    const marks = [];
    if (t === "fcov") {
      marks.push(Plot.ruleY([fcovThreshold], {stroke:"#9a9a9a", strokeDasharray:"2,3", strokeWidth:1.3}));
      marks.push(Plot.line(toPts(window["fcov_" + pft]), {x:"lat", y:"v", stroke:fcovColors[pft], strokeWidth:1.5}));
    } else {
      const band = window[t + "_" + pft + "_band"];
      if (band) marks.push(Plot.areaY(toBand(band), {x:"lat", y1:"lo", y2:"hi", fill:"#d4d4d4"}));
      for (const s of drawOrder) {
        const arr = window[t + "_" + pft + "_" + s];
        if (!arr) continue;
        const st = seriesStyle[s];
        marks.push(Plot.line(toPts(arr), {x:"lat", y:"v", stroke:st.stroke, strokeWidth:st.w, strokeDasharray:st.dash || undefined}));
      }
      const sp = window[t + "_" + pft + "_sPlotOpen"];
      if (sp) marks.push(Plot.line(toPts(sp), {x:"lat", y:"v", stroke:seriesStyle.sPlotOpen.stroke, strokeWidth:seriesStyle.sPlotOpen.w}));
    }
    marks.push(Plot.frame({stroke:"#8e8e8e", strokeWidth:1}));
    marks.push(Plot.axisX({ticks:latTicks, tickSize:5, tickPadding:4, label:null, stroke:"#6a6a6a", fill:"#333", fontSize:13,
      tickFormat: t === "P" ? (d => latLabels.includes(d) ? String(d) : "") : (() => "")}));
    marks.push(Plot.axisY({ticks:yTicks[t], tickSize:5, label:null, stroke:"#6a6a6a", tickFormat:() => ""}));
    if (pft === "ENF") {
      marks.push(Plot.text(yLabels[t], {y:d => d, text:d => String(d), frameAnchor:"left", dx:-18, rotate:-90,
        textAnchor:"middle", lineAnchor:"middle", fontSize:13.5, fill:"#333"}));
    }
    const plot = Plot.plot({
      width: W, height: H,
      marginLeft: ML, marginRight: MR, marginTop: MT, marginBottom: MB,
      x: {domain: latDomain, label: null},
      y: {domain: yDomains[t], label: null},
      style: {background:"transparent", fontFamily:tickFont, fontSize:"13px", overflow:"visible", maxWidth:"none"},
      marks
    });
    const div = document.createElement("div");
    div.className = "panel";
    div.style.left = (boxLeft[pft] - ML) + "px";
    div.style.top = (top - MT) + "px";
    div.style.width = W + "px";
    div.style.height = H + "px";
    div.appendChild(plot);
    root.appendChild(div);
  }
}

// ---------- overlay: titles, row labels, axis titles, legends ----------
var svg = d3.create("svg").attr("id","overlay").attr("width",1074).attr("height",723);
var titleFont = "Lato, 'Open Sans', sans-serif";
var colCenter = {ENF:203, EBF:397, DBF:598, SHR:797, GRA:989};
var latCenter = {ENF:205, EBF:397, DBF:603, SHR:796, GRA:989};
var rowBaseline = {fcov:118, SLA:261.5, N:439.5, P:616.5};

svg.append("text").attr("x",2).attr("y",12).attr("font-family",titleFont).attr("font-weight",700)
  .attr("font-size",13).attr("fill","#555").text("b) Boonman");
for (const p of pfts) {
  svg.append("text").attr("x",colCenter[p]).attr("y",28.5).attr("text-anchor","middle")
    .attr("font-family",titleFont).attr("font-weight",700).attr("font-size",22).attr("fill","#111").text(p);
  svg.append("text").attr("x",latCenter[p]).attr("y",717).attr("text-anchor","middle")
    .attr("font-family",titleFont).attr("font-size",21.5).attr("fill","#222").text("latitude");
}
for (const t of traits) {
  svg.append("text").attr("x",32).attr("y",rowBaseline[t]).attr("text-anchor","middle")
    .attr("font-family",titleFont).attr("font-weight",700).attr("font-size",22).attr("fill","#111").text(t);
}
function legend(names, x0, x1, xt, y0, dy) {
  names.forEach((n, i) => {
    const st = seriesStyle[n], y = y0 + i * dy;
    svg.append("line").attr("x1",x0).attr("x2",x1).attr("y1",y).attr("y2",y)
      .attr("stroke",st.stroke).attr("stroke-width",st.lw).attr("stroke-dasharray",st.ld || null);
    svg.append("text").attr("x",xt).attr("y",y).attr("dominant-baseline","central")
      .attr("font-family",tickFont).attr("font-size",13).attr("fill","#333").text(n);
  });
}
legend(legendSLA, 123, 148, 158, 181.7, 15.6);
legend(legendN, 120, 147, 156, 359.3, 15.2);
root.appendChild(svg.node());
</script></body></html>
